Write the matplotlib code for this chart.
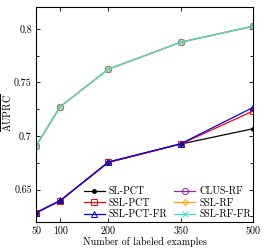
import matplotlib
matplotlib.use("Agg")
import matplotlib.pyplot as plt
from matplotlib.ticker import MultipleLocator

plt.rcParams['font.family'] = ['cmr10']
plt.rcParams['mathtext.fontset'] = 'cm'
plt.rcParams['axes.formatter.use_mathtext'] = True

# data
n_labeled = [50, 100, 200, 350, 500]
sl_pct = [0.6283, 0.6395, 0.6754, 0.6925, 0.7068]
ssl_pct = [0.6283, 0.6395, 0.6754, 0.6925, 0.7233]
ssl_pct_fr = [0.6283, 0.6398, 0.6758, 0.6928, 0.7267]
clus_rf = [0.6907, 0.7274, 0.7624, 0.7876, 0.8025]
ssl_rf = [0.6907, 0.7274, 0.7624, 0.7876, 0.8025]
ssl_rf_fr = [0.6907, 0.7274, 0.7624, 0.7876, 0.8025]

fs = 7.2
fig = plt.figure(figsize=(2.65, 2.49), dpi=100)
ax = fig.add_axes([0.136, 0.108, 0.819, 0.864])

lw = 0.9
ax.plot(n_labeled, sl_pct, color='black', marker='o', ms=2.5, lw=lw, label='SL-PCT')
ax.plot(n_labeled, ssl_pct, color='red', marker='s', ms=4, mfc='none', mew=0.7, lw=lw, label='SSL-PCT')
ax.plot(n_labeled, ssl_pct_fr, color='blue', marker='^', ms=4.5, mfc='none', mew=0.7, lw=lw, label='SSL-PCT-FR')
ax.plot(n_labeled, clus_rf, color='#a020a0', marker='o', ms=4.5, mfc='none', mew=0.7, lw=lw, label='CLUS-RF')
ax.plot(n_labeled, ssl_rf, color='orange', marker='D', ms=3, mfc='none', mew=0.7, lw=lw, label='SSL-RF')
ax.plot(n_labeled, ssl_rf_fr, color='#38e0d8', marker='x', ms=4, mew=0.7, lw=lw, label='SSL-RF-FR')

ax.set_xlim(50, 500)
ax.set_ylim(0.6196, 0.8205)
ax.set_xticks(n_labeled)
ax.set_xticklabels([str(v) for v in n_labeled])
ax.set_yticks([0.65, 0.7, 0.75, 0.8])
ax.set_yticklabels(['0.65', '0.7', '0.75', '0.8'])
ax.yaxis.set_minor_locator(MultipleLocator(0.025))
ax.tick_params(direction='in', which='both', top=True, right=True, labelsize=fs, length=3, width=0.6, pad=3)
ax.tick_params(which='minor', length=2)
for s in ax.spines.values():
    s.set_linewidth(0.8)

ax.set_xlabel('Number of labeled examples', fontsize=fs, labelpad=1)
ax.set_ylabel(r'$\overline{\mathrm{AUPRC}}$', fontsize=fs)
ax.yaxis.set_label_coords(-0.10, 0.51)

ax.legend(ncol=2, loc='lower right', bbox_to_anchor=(1.0, 0.005), frameon=False, fontsize=fs,
          handlelength=2.1, columnspacing=0.7, labelspacing=0.2,
          handletextpad=0.4, borderaxespad=0.0, borderpad=0.2)

fig.savefig('out.png', dpi=100)
